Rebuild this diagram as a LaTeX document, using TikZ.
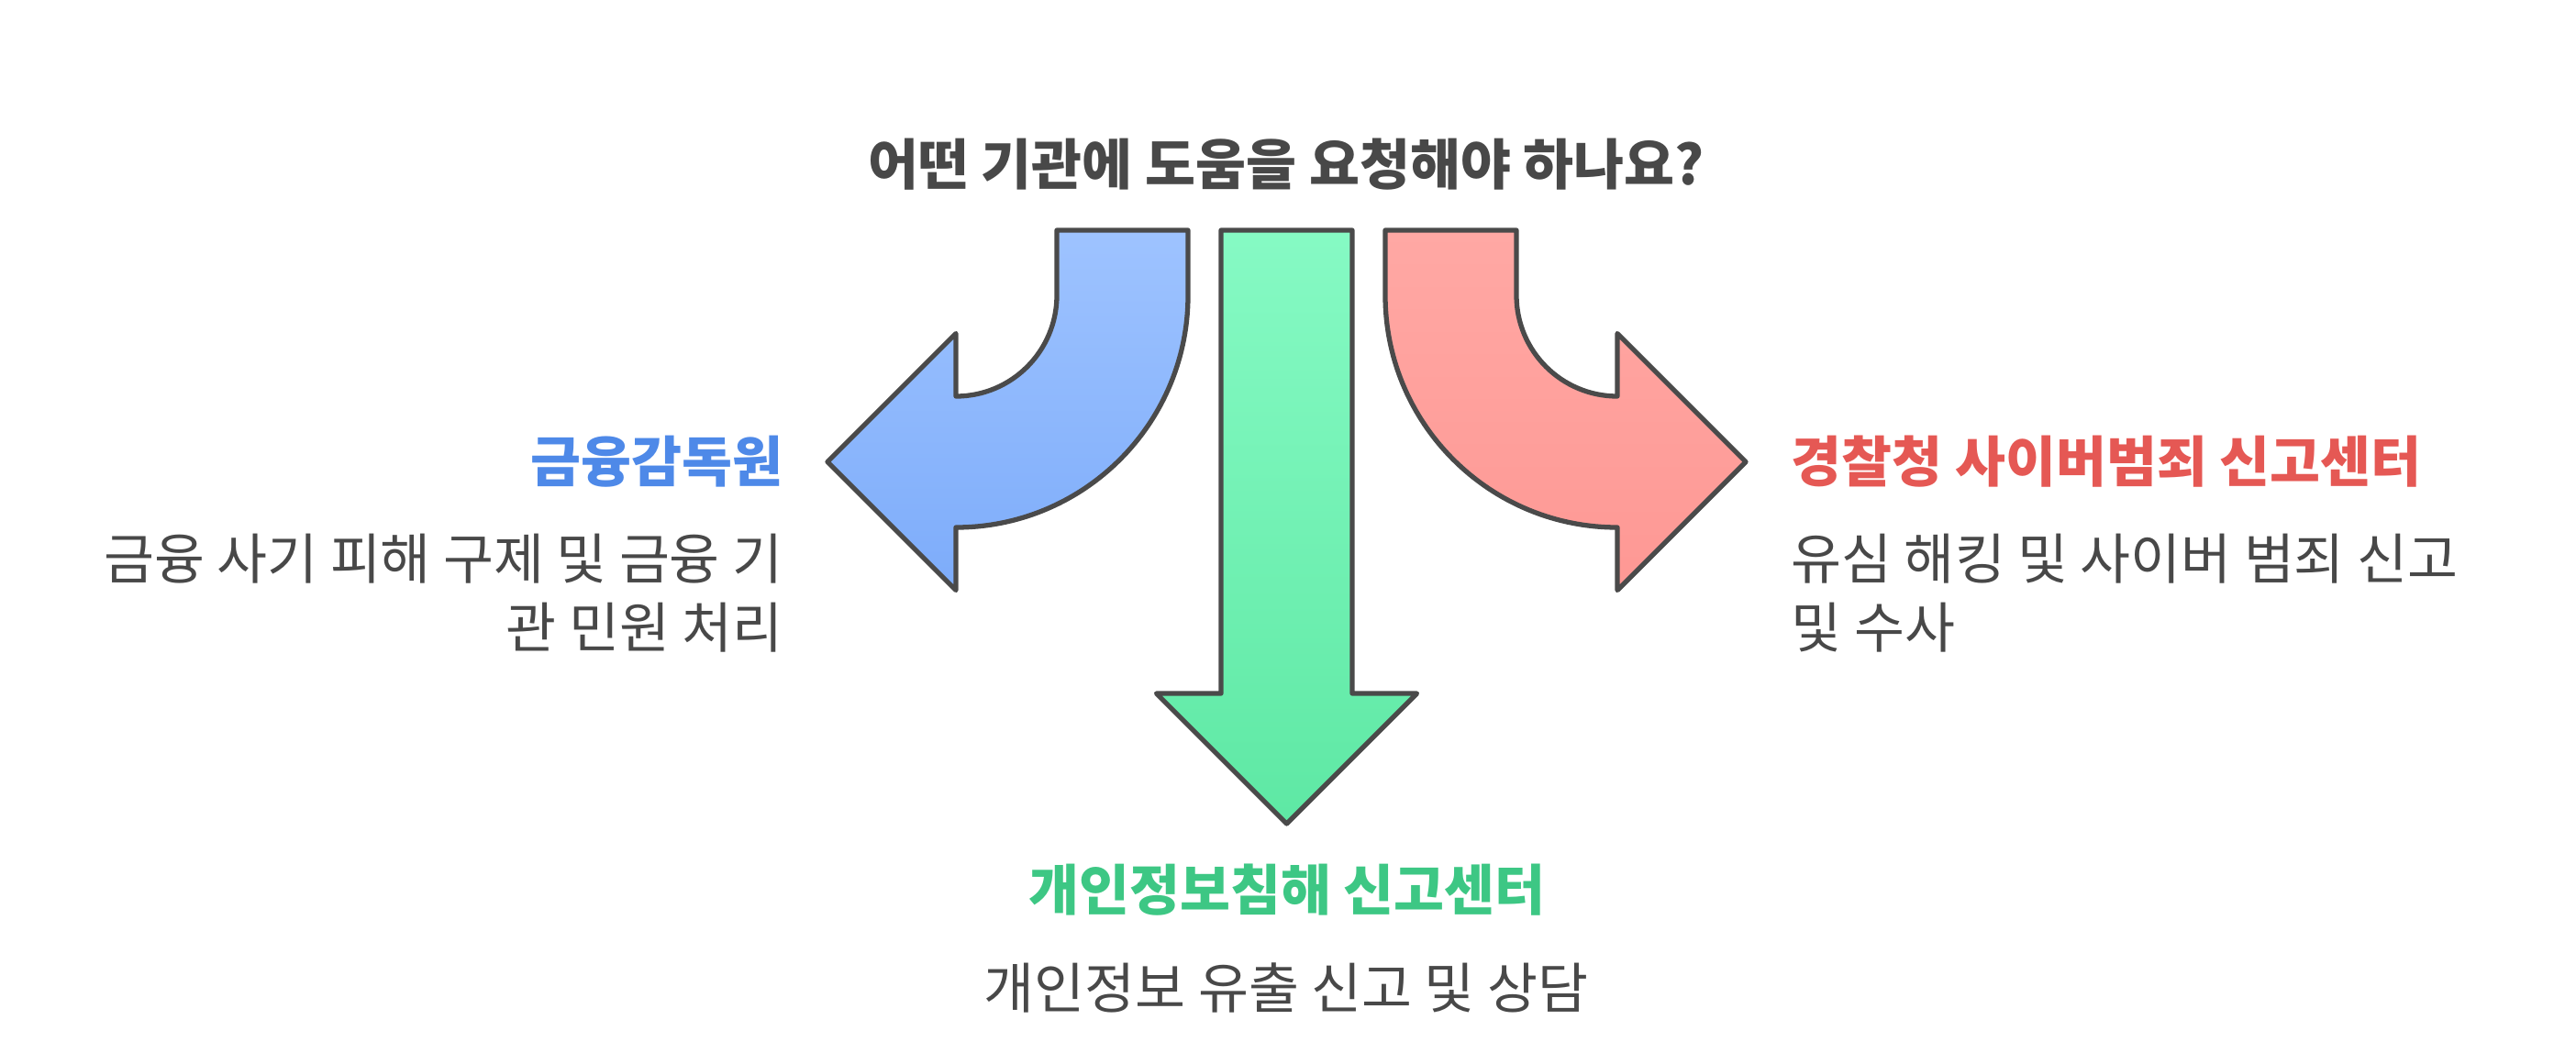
\documentclass[tikz,border=0pt]{standalone}
\usepackage{fontspec}
\setmainfont{Noto Sans CJK KR}
\usepackage{tikz}
\usetikzlibrary{positioning, calc}
\definecolor{cText}{RGB}{72,72,72}
\definecolor{cEdge}{RGB}{74,74,74}
\definecolor{cBlue}{RGB}{78,137,232}
\definecolor{cRed}{RGB}{229,88,84}
\definecolor{cGreen}{RGB}{61,199,132}
\definecolor{cBlueTop}{RGB}{158,195,255}
\definecolor{cBlueBot}{RGB}{125,172,250}
\definecolor{cGreenTop}{RGB}{134,250,196}
\definecolor{cGreenBot}{RGB}{94,232,164}
\definecolor{cRedTop}{RGB}{255,168,164}
\definecolor{cRedBot}{RGB}{254,152,148}
\tikzset{
	bigarrow/.style={draw=cEdge, line width=1.5pt, line join=round},
	headText/.style={font=\fontsize{17}{21.5}\selectfont\bfseries, text=cText, inner sep=0pt},
	labelText/.style={font=\fontsize{17}{21.5}\selectfont\bfseries, inner sep=0pt},
	descText/.style={font=\fontsize{17}{21.5}\selectfont, text=cText, inner sep=0pt},
}

\begin{document}
\begin{tikzpicture}
	\useasboundingbox (0,0) rectangle (28.08,11.59);
	% arrows
	\draw[bigarrow, top color=cBlueTop, bottom color=cBlueBot]
		(11.52,9.08) -- (11.52,8.37) arc[start angle=0, end angle=-90, radius=1.10]
		-- (10.42,7.955) -- (9.02,6.555) -- (10.42,5.155) -- (10.42,5.84)
		arc[start angle=-90, end angle=0, radius=2.53] -- (12.95,9.08) -- cycle;
	\draw[bigarrow, top color=cGreenTop, bottom color=cGreenBot]
		(13.31,9.08) -- (13.31,4.03) -- (12.605,4.03) -- (14.025,2.61)
		-- (15.445,4.03) -- (14.74,4.03) -- (14.74,9.08) -- cycle;
	\draw[bigarrow, top color=cRedTop, bottom color=cRedBot]
		(16.53,9.08) -- (16.53,8.37) arc[start angle=180, end angle=270, radius=1.10]
		-- (17.63,7.955) -- (19.03,6.555) -- (17.63,5.155) -- (17.63,5.84)
		arc[start angle=270, end angle=180, radius=2.53] -- (15.10,9.08) -- cycle;
	% texts
	\node[headText] (question) at (14.02,9.80) {어떤 기관에 도움을 요청해야 하나요?};
	\node[labelText, text=cBlue, anchor=east] (fssLabel) at (8.54,6.555) {금융감독원};
	\node[descText, align=right, anchor=north east] (fssDesc) at (8.54,5.78) {금융 사기 피해 구제 및 금융 기\\관 민원 처리};
	\node[labelText, text=cRed, anchor=west] (cyberLabel) at (19.52,6.555) {경찰청 사이버범죄 신고센터};
	\node[descText, align=left, anchor=north west] (cyberDesc) at (19.52,5.78) {유심 해킹 및 사이버 범죄 신고\\및 수사};
	\node[labelText, text=cGreen] (privLabel) at (14.03,1.89) {개인정보침해 신고센터};
	\node[descText] (privDesc) at (14.02,0.82) {개인정보 유출 신고 및 상담};
\end{tikzpicture}
\end{document}
